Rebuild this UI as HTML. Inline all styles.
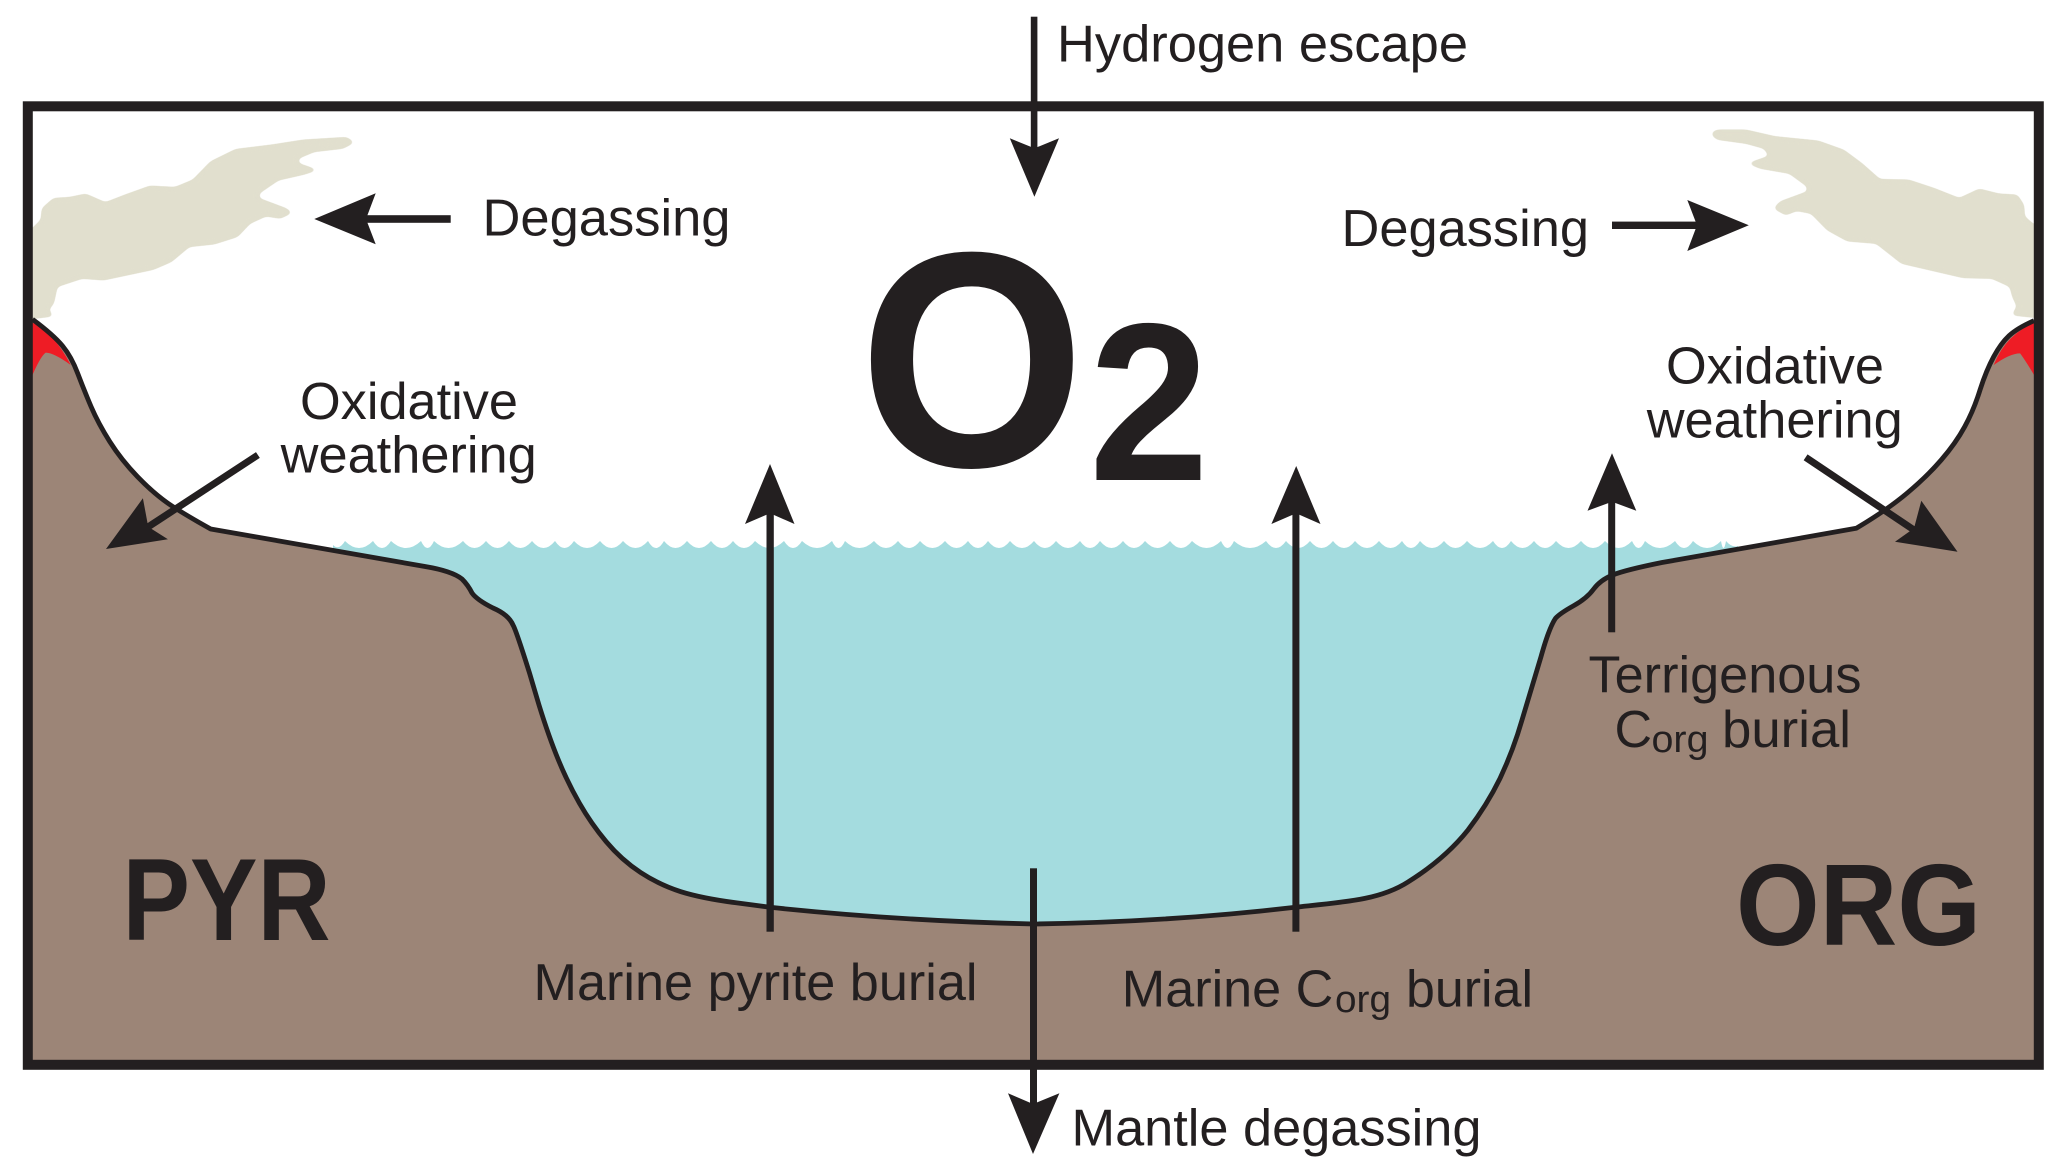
<!DOCTYPE html>
<html lang="en">
<head>
<meta charset="utf-8">
<title>O2 cycle diagram</title>
<style>
html,body{margin:0;padding:0;background:#fff;width:2067px;height:1174px;overflow:hidden}
svg{display:block}
text{font-family:"Liberation Sans",Arial,sans-serif;fill:#231f20;font-size:52px}
.b{font-weight:700}
</style>
</head>
<body>
<svg xmlns="http://www.w3.org/2000/svg" width="2067" height="1174" viewBox="0 0 2067 1174">
<defs>
<filter id="s" x="-5%" y="-5%" width="110%" height="110%" color-interpolation-filters="sRGB">
<feGaussianBlur stdDeviation="2.4"/>
<feComponentTransfer><feFuncA type="linear" slope="8" intercept="-2.8"/></feComponentTransfer>
</filter>
</defs>
<rect width="2067" height="1174" fill="#fff"/>

<!-- clouds -->
<g filter="url(#s)" fill="#e1dfce">
<polygon transform="translate(0,80) scale(.35714,.33333)" points="78,458 91,445 115,420 118,385 150,355 195,352 240,342 295,368 350,345 420,318 490,322 540,300 590,245 660,208 760,195 850,180 970,172 992,187 960,205 880,215 835,235 835,250 889,270 850,283 780,300 725,340 725,355 800,385 818,398 785,415 745,408 700,430 665,470 600,492 530,500 480,545 430,568 290,600 230,595 160,620 150,670 135,690 150,708 91,716 78,716"/>
<polygon transform="translate(1500,80) scale(.3617,.33333)" points="586,158 600,150 680,150 760,170 880,183 950,210 1000,250 1050,298 1130,300 1200,325 1270,355 1325,327 1380,342 1430,345 1448,375 1450,410 1477,435 1490,435 1490,712 1477,712 1415,705 1430,680 1417,650 1410,620 1360,595 1280,593 1110,550 1040,490 960,483 905,450 860,400 820,392 790,405 757,385 775,365 850,335 850,320 800,280 720,265 686,250 745,228 730,205 680,190 600,178 586,165"/>
</g>

<!-- water -->
<path fill="#a4dcdf" d="M333 545 Q339 551 345 541 Q359 555 373 541 Q382 555 391 541 Q406 555 421 541 Q427.5 555 434 541 Q448.5 555 463 541 Q474.5 555 486 541 Q497.5 555 509 541 Q520.5 555 532 541 Q543.5 555 555 541 Q564.5 555 574 541 Q587 555 600 541 Q611.5 555 623 541 Q635.5 555 648 541 Q656 555 664 541 Q675.5 555 687 541 Q699 555 711 541 Q722 555 733 541 Q744 555 755 541 Q769.5 555 784 541 Q793 555 802 541 Q817 555 832 541 Q838.5 555 845 541 Q859.5 555 874 541 Q886 555 898 541 Q909 555 920 541 Q932.5 555 945 541 Q956.5 555 968 541 Q978 555 988 541 Q999 555 1010 541 Q1022 555 1034 541 Q1045 555 1056 541 Q1068 555 1080 541 Q1090 555 1100 541 Q1111.5 555 1123 541 Q1134 555 1145 541 Q1157.5 555 1170 541 Q1181 555 1192 541 Q1206.5 555 1221 541 Q1227.5 555 1234 541 Q1250 555 1266 541 Q1276 555 1286 541 Q1298 555 1310 541 Q1321.5 555 1333 541 Q1344 555 1355 541 Q1367 555 1379 541 Q1390.5 555 1402 541 Q1411 555 1420 541 Q1432 555 1444 541 Q1455.5 555 1467 541 Q1480 555 1493 541 Q1502 555 1511 541 Q1522.5 555 1534 541 Q1545 555 1556 541 Q1568.5 555 1581 541 Q1593 555 1605 541 Q1618.5 555 1632 541 Q1638.5 555 1645 541 Q1660 555 1675 541 Q1684 555 1693 541 Q1707 555 1721 541 Q1723.5 555 1726 541 Q1732 548 1738 546 L1738 700 L1500 950 L600 950 L333 600 Z"/>

<!-- ground -->
<path fill="#9c8577" d="M32.5 319.3 Q53.6 335 62.5 345.9 Q71.4 356.7 77.7 373.4 Q84 390 91.1 406.7 Q98.2 423.3 109.8 441.7 Q121.4 460 137.5 476.7 Q153.6 493.3 167.8 503.2 Q182 513 210.7 529 L425 566.5 Q452 571 462 579 Q468 585 472 593 Q477 600 493 608 Q508.6 614.7 513 625 Q516 630 529.6 673.3 L539 705 Q548.8 736.7 558.4 760 Q568 783.3 579.5 803.3 Q590.9 823.3 606.2 841.7 Q621.5 860 640.6 872.5 Q659.7 885 680.8 891.7 Q701.8 898.3 736 902.8 L770 907.3 Q900 921 1033.5 924 Q1170 922 1294.6 907.3 C1345 902 1380 900 1408 882 C1432 867 1452 850 1468 830 Q1487 805 1500 778.4 Q1513.4 750 1522 720 Q1531 690 1541 656.7 Q1549 628 1555.5 618.3 Q1560 613.3 1573.5 605.8 Q1587 598.3 1593.7 589 Q1600.4 580 1612.7 575 Q1625 570 1662 562.5 L1856.2 528.3 Q1887 510 1906.9 493.3 Q1926.8 476.7 1941.2 460 Q1955.7 443.3 1964.7 426.7 Q1973.8 410 1980 390 Q1986.4 370 1993.7 356.7 Q2001 343.3 2009 335.8 Q2017 328.3 2034 320.7 L2034 1062 L32.5 1062 Z"/>

<!-- lava -->
<path fill="#ee1c25" transform="translate(0,80) scale(.35714,.33333)" d="M85 725 Q150 755 198 855 Q150 818 128 818 Q112 830 85 900 Z"/>
<path fill="#ee1c25" transform="translate(1500,80) scale(.3617,.33333)" d="M1485 725 Q1400 760 1365 855 Q1410 820 1438 820 Q1452 840 1485 900 Z"/>

<!-- ground outline -->
<path fill="none" stroke="#231f20" stroke-width="4.8" stroke-linejoin="round" d="M32.5 319.3 Q53.6 335 62.5 345.9 Q71.4 356.7 77.7 373.4 Q84 390 91.1 406.7 Q98.2 423.3 109.8 441.7 Q121.4 460 137.5 476.7 Q153.6 493.3 167.8 503.2 Q182 513 210.7 529 L425 566.5 Q452 571 462 579 Q468 585 472 593 Q477 600 493 608 Q508.6 614.7 513 625 Q516 630 529.6 673.3 L539 705 Q548.8 736.7 558.4 760 Q568 783.3 579.5 803.3 Q590.9 823.3 606.2 841.7 Q621.5 860 640.6 872.5 Q659.7 885 680.8 891.7 Q701.8 898.3 736 902.8 L770 907.3 Q900 921 1033.5 924 Q1170 922 1294.6 907.3 C1345 902 1380 900 1408 882 C1432 867 1452 850 1468 830 Q1487 805 1500 778.4 Q1513.4 750 1522 720 Q1531 690 1541 656.7 Q1549 628 1555.5 618.3 Q1560 613.3 1573.5 605.8 Q1587 598.3 1593.7 589 Q1600.4 580 1612.7 575 Q1625 570 1662 562.5 L1856.2 528.3 Q1887 510 1906.9 493.3 Q1926.8 476.7 1941.2 460 Q1955.7 443.3 1964.7 426.7 Q1973.8 410 1980 390 Q1986.4 370 1993.7 356.7 Q2001 343.3 2009 335.8 Q2017 328.3 2034 320.7"/>

<!-- frame -->
<rect x="27.8" y="106.3" width="2011" height="958.5" fill="none" stroke="#231f20" stroke-width="10"/>

<!-- arrows -->
<g fill="#231f20">
<rect x="1030.8" y="16.7" width="6.6" height="135"/>
<polygon points="1009.8,138.3 1034.4,148.3 1059,138.3 1034.4,196.7"/>

<rect x="366" y="215.2" width="84.7" height="7.6"/>
<polygon points="314.3,219 375.7,193.3 366,219 375.7,244.3"/>

<rect x="1612" y="221.6" width="87" height="7.4"/>
<polygon points="1748.8,225.3 1687.3,200 1697,225.3 1687.3,251"/>

<rect x="766.5" y="510" width="7.3" height="421.7"/>
<polygon points="770,464 794.5,524 770,513.3 745,524"/>

<rect x="1292.4" y="510" width="7" height="421.7"/>
<polygon points="1296.2,466 1320.5,524 1296,513.3 1271.4,524"/>

<rect x="1608.2" y="498" width="7" height="134.3"/>
<polygon points="1612,453.3 1636.3,510.7 1612,501.7 1587.5,510.7"/>

<rect x="1030" y="868.3" width="7" height="240"/>
<polygon points="1008,1093.3 1033,1104 1059.4,1093.3 1033,1154"/>

<polygon points="106,549 142.9,498.3 148.2,526.7 167.9,539.3"/>
<polygon points="1957.5,551.7 1921.3,500.7 1914,528.3 1895,541.7"/>
</g>
<line x1="257.9" y1="455" x2="148" y2="527" stroke="#231f20" stroke-width="7"/>
<line x1="1805.6" y1="457.3" x2="1914" y2="530" stroke="#231f20" stroke-width="7"/>

<!-- labels -->
<text x="1057" y="61.7" textLength="411" lengthAdjust="spacingAndGlyphs">Hydrogen escape</text>
<text x="482.5" y="235.7" textLength="248" lengthAdjust="spacingAndGlyphs">Degassing</text>
<text x="1341.5" y="246" textLength="247.5" lengthAdjust="spacingAndGlyphs">Degassing</text>
<text x="300" y="419" textLength="218" lengthAdjust="spacingAndGlyphs">Oxidative</text>
<text x="280.7" y="472.7" textLength="256" lengthAdjust="spacingAndGlyphs">weathering</text>
<text x="1666" y="383.3" textLength="218" lengthAdjust="spacingAndGlyphs">Oxidative</text>
<text x="1646.7" y="437.3" textLength="256" lengthAdjust="spacingAndGlyphs">weathering</text>
<text x="533.5" y="1000" textLength="444" lengthAdjust="spacingAndGlyphs">Marine pyrite burial</text>
<text x="1121.8" y="1006.7" textLength="211.5" lengthAdjust="spacingAndGlyphs">Marine C</text>
<text x="1335" y="1012" style="font-size:38px" textLength="56" lengthAdjust="spacingAndGlyphs">org</text>
<text x="1406" y="1006.7" textLength="127" lengthAdjust="spacingAndGlyphs">burial</text>
<text x="1588.5" y="692.7" textLength="273" lengthAdjust="spacingAndGlyphs">Terrigenous</text>
<text x="1614.5" y="747">C</text>
<text x="1651.5" y="752" style="font-size:38px" textLength="57" lengthAdjust="spacingAndGlyphs">org</text>
<text x="1722" y="747" textLength="129" lengthAdjust="spacingAndGlyphs">burial</text>
<text x="1071.5" y="1145.7" textLength="410" lengthAdjust="spacingAndGlyphs">Mantle degassing</text>

<text class="b" x="122.5" y="940" style="font-size:117px" textLength="208" lengthAdjust="spacingAndGlyphs">PYR</text>
<text class="b" x="1736" y="945" style="font-size:116px" textLength="245" lengthAdjust="spacingAndGlyphs">ORG</text>
<text class="b" x="859" y="466" style="font-size:307px" textLength="226" lengthAdjust="spacingAndGlyphs">O</text>
<text class="b" x="1089" y="480" style="font-size:225px" textLength="120" lengthAdjust="spacingAndGlyphs">2</text>
</svg>
</body>
</html>
